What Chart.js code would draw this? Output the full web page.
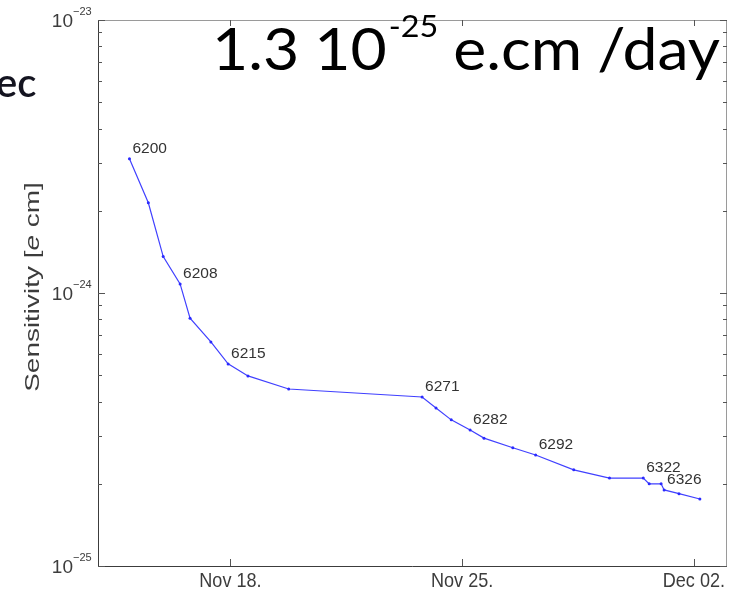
<!DOCTYPE html>
<html>
<head>
<meta charset="utf-8">
<script src="https://cdn.jsdelivr.net/npm/chart.js@4/dist/chart.umd.min.js"></script>
<style>
  html, body { margin: 0; padding: 0; background: #fff; }
  #wrap { width: 731px; height: 592px; position: relative; }
</style>
</head>
<body>
<div id="wrap"><canvas id="c" width="731" height="592"></canvas></div>
<script>
// Run date as fractional day counted from Nov 1 (Nov 18 = 18, Dec 02 = 32)
const runDays = [14.95, 15.52, 15.97, 16.48, 16.78, 17.41, 17.93, 18.53, 19.76,
                 23.79, 24.21, 24.67, 25.24, 25.66, 26.53, 27.22, 28.37, 29.45,
                 30.47, 30.65, 31.01, 31.10, 31.55, 32.18];
// Accumulated sensitivity [e cm]
const sensitivity = [3.10e-24, 2.14e-24, 1.36e-24, 1.08e-24, 8.09e-25, 6.62e-25, 5.50e-25, 4.97e-25, 4.45e-25,
                     4.16e-25, 3.79e-25, 3.43e-25, 3.15e-25, 2.94e-25, 2.71e-25, 2.55e-25, 2.25e-25, 2.10e-25,
                     2.10e-25, 2.00e-25, 2.00e-25, 1.90e-25, 1.84e-25, 1.76e-25];
// Run numbers written next to selected points
const runLabels = ['6200', '', '', '6208', '', '', '6215', '', '', '6271', '', '', '6282', '', '',
                   '6292', '', '', '6322', '', '', '6326', '', ''];
const dateTicks = [18, 25, 32];
const dateTickLabels = ['Nov 18.', 'Nov 25.', 'Dec 02.'];
const decadeTicks = [1e-25, 1e-24, 1e-23];
const decadeExponents = ['\u221225', '\u221224', '\u221223'];
// Rate annotation, split into words; the third piece is a superscript
const rateWords = ['1.3', '10', '-25', 'e.cm', '/day'];

const AX = '#3c3c3c';
const SANS = '"Liberation Sans", Arial, Helvetica, sans-serif';
const BIG = 'Lato, "Open Sans", sans-serif';

const matlabAxes = {
  id: 'matlabAxes',
  beforeDatasetsDraw(chart) {
    const { ctx, chartArea: a, scales: { x, y } } = chart;
    ctx.save();
    // box
    ctx.lineWidth = 1;
    ctx.strokeStyle = '#9a9a9a';
    ctx.beginPath();
    ctx.moveTo(a.left, a.top + 0.5); ctx.lineTo(a.right, a.top + 0.5);
    ctx.moveTo(a.right - 0.5, a.top); ctx.lineTo(a.right - 0.5, a.bottom);
    ctx.stroke();
    ctx.strokeStyle = AX;
    ctx.beginPath();
    ctx.moveTo(a.left + 0.5, a.top); ctx.lineTo(a.left + 0.5, a.bottom + 0.5);
    ctx.lineTo(a.right, a.bottom + 0.5);
    ctx.stroke();

    // log ticks (inward), on both sides
    ctx.strokeStyle = '#555';
    ctx.beginPath();
    for (let e = -25; e <= -23; e++) {
      for (let m = 1; m <= 9; m++) {
        const v = m * Math.pow(10, e);
        if (v > 1e-23 * 1.0001) break;
        const py = Math.round(y.getPixelForValue(v)) + 0.5;
        const len = m === 1 ? 7 : 4;
        ctx.moveTo(a.left, py); ctx.lineTo(a.left + len, py);
        ctx.moveTo(a.right, py); ctx.lineTo(a.right - len, py);
      }
    }
    // date ticks (inward), top and bottom
    dateTicks.forEach(d => {
      const px = Math.round(x.getPixelForValue(d)) + 0.5;
      ctx.moveTo(px, a.bottom); ctx.lineTo(px, a.bottom - 7);
      ctx.moveTo(px, a.top); ctx.lineTo(px, a.top + 6);
    });
    ctx.stroke();

    // y tick labels 10^n
    ctx.fillStyle = AX;
    decadeTicks.forEach((v, i) => {
      const py = y.getPixelForValue(v);
      ctx.font = '19px ' + SANS;
      ctx.textAlign = 'right';
      ctx.textBaseline = 'alphabetic';
      ctx.fillText('10', 73, py + 7);
      ctx.font = '11px ' + SANS;
      ctx.textAlign = 'left';
      ctx.fillText(decadeExponents[i], 73, py - 5);
    });

    // x tick labels
    ctx.font = '21px ' + SANS;
    ctx.textAlign = 'center';
    ctx.textBaseline = 'alphabetic';
    dateTicks.forEach((d, i) => {
      const px = x.getPixelForValue(d);
      ctx.save();
      ctx.translate(px, 587);
      ctx.scale(0.86, 1);
      ctx.fillText(dateTickLabels[i], 0, 0);
      ctx.restore();
    });

    // y axis title with italic e
    ctx.save();
    ctx.translate(39, 287);
    ctx.rotate(-Math.PI / 2);
    ctx.scale(1.33, 1);
    const parts = [['Sensitivity [', 'normal'], ['e', 'italic'], [' cm]', 'normal']];
    let total = 0;
    parts.forEach(p => { ctx.font = p[1] + ' 21px ' + SANS; total += ctx.measureText(p[0]).width; });
    let cx = -total / 2;
    ctx.textAlign = 'left';
    parts.forEach(p => {
      ctx.font = p[1] + ' 21px ' + SANS;
      ctx.fillText(p[0], cx, 0);
      cx += ctx.measureText(p[0]).width;
    });
    ctx.restore();
    ctx.restore();
  },
  afterDatasetsDraw(chart) {
    const { ctx } = chart;
    const meta = chart.getDatasetMeta(0);
    ctx.save();
    // run number labels
    ctx.fillStyle = '#333';
    ctx.font = '15.5px ' + SANS;
    ctx.textAlign = 'left';
    ctx.textBaseline = 'middle';
    meta.data.forEach((pt, i) => {
      if (runLabels[i]) ctx.fillText(runLabels[i], pt.x + 3, pt.y - 10);
    });

    // rate annotation: natural spacing, then stretched horizontally to the line width
    ctx.fillStyle = '#000';
    ctx.textBaseline = 'alphabetic';
    const size = 58, supSize = 30;
    const left = 212, right = 720, base = 70;
    const widths = rateWords.map((w, i) => {
      ctx.font = (i === 2 ? supSize : size) + 'px ' + BIG;
      return ctx.measureText(w).width;
    });
    const gap = size * 0.24;
    const natural = widths.reduce((s, w) => s + w, 0) + 3 * gap + 2;
    ctx.save();
    ctx.translate(left, base);
    ctx.scale((right - left) / natural, 1);
    let tx = 0;
    rateWords.forEach((w, i) => {
      ctx.font = (i === 2 ? supSize : size) + 'px ' + BIG;
      ctx.fillText(w, tx, i === 2 ? -33 : 0);
      tx += widths[i];
      if (i === 0 || i === 2 || i === 3) tx += gap;
      if (i === 1) tx += 2;
    });
    ctx.restore();

    // fragment of slide heading at the left edge
    ctx.fillStyle = '#141420';
    ctx.font = '600 40px ' + BIG;
    ctx.fillText('ec', -4, 97);
    ctx.restore();
  }
};

new Chart(document.getElementById('c'), {
  type: 'line',
  data: {
    datasets: [{
      data: runDays.map((d, i) => ({ x: d, y: sensitivity[i] })),
      borderColor: '#4040ff',
      backgroundColor: '#2a2aff',
      borderWidth: 1.2,
      pointRadius: 1.5,
      pointBorderWidth: 0,
      tension: 0
    }]
  },
  options: {
    responsive: false,
    animation: false,
    events: [],
    layout: { padding: { left: 98, top: 20, right: 1, bottom: 26 } },
    plugins: { legend: { display: false }, tooltip: { enabled: false } },
    scales: {
      x: { type: 'linear', min: 14, max: 33, display: false },
      y: { type: 'logarithmic', min: 1e-25, max: 1e-23, display: false }
    }
  },
  plugins: [matlabAxes]
});
</script>
</body>
</html>
